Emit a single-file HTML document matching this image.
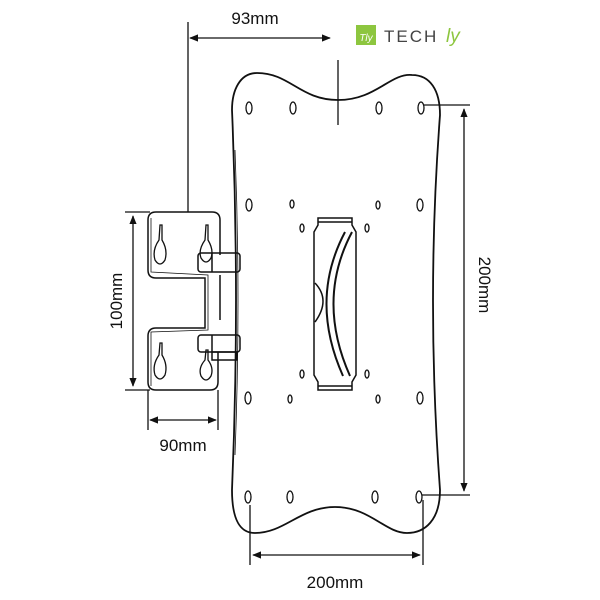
<!DOCTYPE html>
<html><head><style>body{margin:0;background:#fff}svg{display:block}</style></head><body>
<svg width="600" height="600" viewBox="0 0 600 600" xmlns="http://www.w3.org/2000/svg" font-family="Liberation Sans, sans-serif">
<defs><marker id="a" viewBox="0 0 10 10" refX="9" refY="5" markerWidth="7" markerHeight="7" orient="auto-start-reverse"><path d="M0,1 L10,5 L0,9 z" fill="#111"/></marker></defs>
<g stroke="#111" fill="none" stroke-width="1.5">
<!-- plate -->
<path d="M257,73 C290,73 300,100 338,100 C376,100 390,73 412,75 C430,75 440,90 440,115 Q426,300 440,490 C440,520 425,533 407,533 C385,533 370,507 335,507 C300,507 285,533 255,533 C240,533 232,520 232,490 Q240,300 232,110 C232,90 240,73 257,73 Z" stroke-width="1.8"/>
<path d="M235,150 Q241,300 235,455" stroke-width="0.8"/>
<!-- holes -->
<g stroke-width="1.3">
<ellipse cx="249" cy="108" rx="3" ry="6"/><ellipse cx="293" cy="108" rx="3" ry="6"/><ellipse cx="379" cy="108" rx="3" ry="6"/><ellipse cx="421" cy="108" rx="3" ry="6"/>
<ellipse cx="249" cy="205" rx="3" ry="6"/><ellipse cx="292" cy="204" rx="2" ry="4"/><ellipse cx="378" cy="205" rx="2" ry="4"/><ellipse cx="420" cy="205" rx="3" ry="6"/>
<ellipse cx="302" cy="228" rx="2" ry="4"/><ellipse cx="367" cy="228" rx="2" ry="4"/><ellipse cx="302" cy="374" rx="2" ry="4"/><ellipse cx="367" cy="374" rx="2" ry="4"/>
<ellipse cx="248" cy="398" rx="3" ry="6"/><ellipse cx="290" cy="399" rx="2" ry="4"/><ellipse cx="378" cy="399" rx="2" ry="4"/><ellipse cx="420" cy="398" rx="3" ry="6"/>
<ellipse cx="248" cy="497" rx="3" ry="6"/><ellipse cx="290" cy="497" rx="3" ry="6"/><ellipse cx="375" cy="497" rx="3" ry="6"/><ellipse cx="419" cy="497" rx="3" ry="6"/>
</g>
<!-- central bracket -->
<path d="M318,218 L352,218 L352,225 L356,232 L356,375 L352,382 L352,390 L318,390 L318,382 L314,375 L314,232 L318,225 Z"/>
<line x1="318" y1="222" x2="352" y2="222"/><line x1="318" y1="386" x2="352" y2="386"/>
<path d="M352,232 Q316,300 350,376 M345,232 Q309,300 343,376" stroke-width="2"/>
<path d="M315,283 Q331,300 315,322"/>
<!-- wall plate -->
<path d="M156,212 L212,212 Q220,212 220,220 L220,255 M220,275 L220,320 M156,212 Q148,212 148,220 L148,270 Q148,278 156,278 L205,278 L205,328 L156,328 Q148,328 148,336 L148,382 Q148,390 156,390 L210,390 Q218,390 218,382 L218,352"/>
<path d="M151,218 L151,272 L208,275 L208,330 L151,332 L151,386" stroke-width="0.8"/>
<rect x="198" y="253" width="42" height="19" rx="3"/>
<rect x="198" y="335" width="42" height="17" rx="3"/>
<rect x="212" y="352" width="25" height="8"/>
<line x1="212" y1="253" x2="212" y2="272"/><line x1="212" y1="335" x2="212" y2="352"/>
<!-- keyholes -->
<g stroke-width="1.3">
<path d="M160,225 L162,225 L162,240 Q168,250 165,260 Q160,268 155,260 Q152,250 159,240 Z"/>
<path d="M206,225 L208,225 L208,240 Q214,250 211,258 Q206,266 201,258 Q198,250 205,240 Z"/>
<path d="M160,343 L162,343 L162,355 Q168,365 165,375 Q160,383 155,375 Q152,365 159,355 Z"/>
<path d="M206,350 L208,350 L208,360 Q214,368 211,376 Q206,384 201,376 Q198,368 205,360 Z"/>
</g>
</g>
<!-- dimensions -->
<g stroke="#111" stroke-width="1.3" fill="none">
<line x1="188" y1="22" x2="188" y2="212"/><line x1="338" y1="60" x2="338" y2="125"/>
<line x1="190" y1="38" x2="330" y2="38" marker-start="url(#a)" marker-end="url(#a)"/>
<line x1="125" y1="212" x2="150" y2="212"/><line x1="125" y1="390" x2="150" y2="390"/>
<line x1="133" y1="216" x2="133" y2="386" marker-start="url(#a)" marker-end="url(#a)"/>
<line x1="148" y1="390" x2="148" y2="430"/><line x1="218" y1="390" x2="218" y2="430"/>
<line x1="150" y1="420" x2="216" y2="420" marker-start="url(#a)" marker-end="url(#a)"/>
<line x1="424" y1="105" x2="470" y2="105"/><line x1="422" y1="495" x2="470" y2="495"/>
<line x1="464" y1="109" x2="464" y2="491" marker-start="url(#a)" marker-end="url(#a)"/>
<line x1="250" y1="505" x2="250" y2="565"/><line x1="423" y1="500" x2="423" y2="565"/>
<line x1="253" y1="555" x2="420" y2="555" marker-start="url(#a)" marker-end="url(#a)"/>
</g>
<g fill="#111" font-size="17">
<text x="255" y="24" text-anchor="middle">93mm</text>
<text x="183" y="451" text-anchor="middle">90mm</text>
<text x="335" y="588" text-anchor="middle">200mm</text>
<text transform="translate(122,301) rotate(-90)" text-anchor="middle">100mm</text>
<text transform="translate(479,285) rotate(90)" text-anchor="middle">200mm</text>
</g>
<!-- logo -->
<rect x="356" y="25" width="20" height="20" fill="#8dc63f"/>
<text x="366" y="41" font-size="10" fill="#fff" text-anchor="middle" font-style="italic">Tly</text>
<text x="384" y="42" font-size="17" fill="#444" letter-spacing="2">TECH</text>
<text x="446" y="42" font-size="19" fill="#8dc63f" font-style="italic">ly</text>
</svg>
</body></html>
